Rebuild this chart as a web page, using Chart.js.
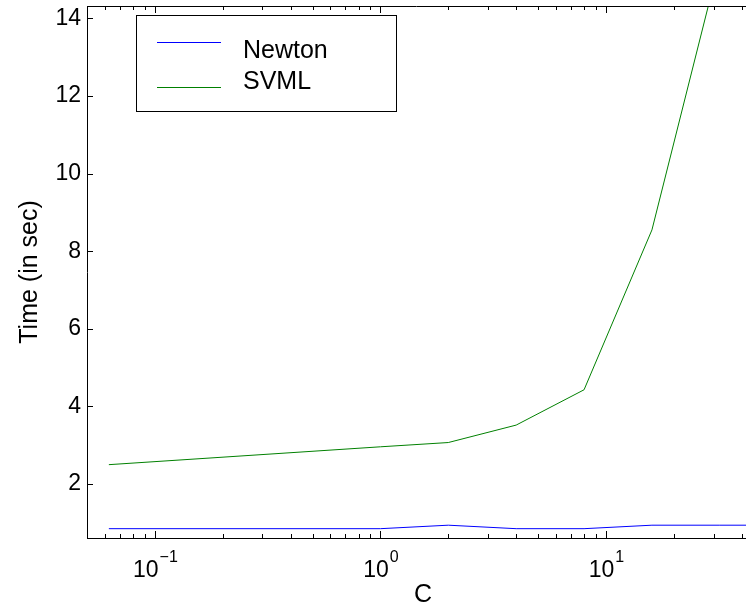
<!DOCTYPE html>
<html>
<head>
<meta charset="utf-8">
<script src="https://cdn.jsdelivr.net/npm/chart.js@4.4.1/dist/chart.umd.min.js"></script>
<style>
  html, body { margin: 0; padding: 0; background: #fff; }
  #wrap { width: 746px; height: 605px; }
</style>
</head>
<body>
<div id="wrap"><canvas id="myChart"></canvas></div>
<script>
// values (C on a log axis, time in sec)
var cNewton = [0.0625, 1, 2, 4, 8, 16, 32, 64];
var timeNewton = [0.85, 0.85, 0.94, 0.85, 0.85, 0.94, 0.94, 0.94];
var cSvml = [0.0625, 1, 2, 4, 8, 16, 32];
var timeSvml = [2.5, 2.96, 3.07, 3.52, 4.43, 8.55, 15.5];

var seriesNames = ['Newton', 'SVML'];
var seriesColors = ['#0000ff', '#008000'];

var yTicks = [2, 4, 6, 8, 10, 12, 14];
var xMajor = [0.1, 1, 10];
var xMajorExp = ['\u22121', '0', '1'];
var xMinor = [0.06, 0.07, 0.08, 0.09, 0.2, 0.3, 0.4, 0.5, 0.6, 0.7, 0.8, 0.9,
              2, 3, 4, 5, 6, 7, 8, 9, 20, 30, 40];
var xTitle = 'C';

var FONT = 'Liberation Sans, Arial, Helvetica, sans-serif';

function toPoints(xs, ys) {
    return xs.map(function (x, i) { return { x: x, y: ys[i] }; });
}

// ticks point inward, box on top, superscript labels, legend inside the axes
var axesExtras = {
    id: 'axesExtras',
    afterDatasetsDraw: function (chart) {
        var ctx = chart.ctx;
        var a = chart.chartArea;
        var xs = chart.scales.x, ys = chart.scales.y;
        ctx.save();
        ctx.strokeStyle = '#000';
        ctx.lineWidth = 1;

        // top border
        ctx.beginPath();
        ctx.moveTo(a.left, Math.round(a.top) + 0.5);
        ctx.lineTo(a.right, Math.round(a.top) + 0.5);
        ctx.stroke();

        ctx.beginPath();
        yTicks.forEach(function (v) {
            var py = Math.round(ys.getPixelForValue(v)) + 0.5;
            ctx.moveTo(a.left, py);
            ctx.lineTo(a.left + 6, py);
        });
        xMajor.forEach(function (v) {
            var px = Math.round(xs.getPixelForValue(v)) + 0.5;
            ctx.moveTo(px, a.bottom); ctx.lineTo(px, a.bottom - 7);
            ctx.moveTo(px, a.top); ctx.lineTo(px, a.top + 7);
        });
        xMinor.forEach(function (v) {
            var px = Math.round(xs.getPixelForValue(v)) + 0.5;
            ctx.moveTo(px, a.bottom); ctx.lineTo(px, a.bottom - 4);
            ctx.moveTo(px, a.top); ctx.lineTo(px, a.top + 4);
        });
        ctx.stroke();

        // 10^n labels
        ctx.fillStyle = '#000';
        ctx.textBaseline = 'alphabetic';
        ctx.textAlign = 'left';
        xMajor.forEach(function (v, i) {
            var px = xs.getPixelForValue(v);
            ctx.font = '23px ' + FONT;
            var wBase = ctx.measureText('10').width;
            ctx.font = '16px ' + FONT;
            var wExp = ctx.measureText(xMajorExp[i]).width;
            var x0 = px - (wBase + wExp) / 2;
            ctx.font = '23px ' + FONT;
            ctx.fillText('10', x0, a.bottom + 39);
            ctx.font = '16px ' + FONT;
            ctx.fillText(xMajorExp[i], x0 + wBase + 1, a.bottom + 24);
        });

        // axis title under the (cropped) x axis
        ctx.font = '25px ' + FONT;
        ctx.textAlign = 'center';
        ctx.fillText(xTitle, 423, 602);
        ctx.textAlign = 'left';

        // legend box
        ctx.fillStyle = '#fff';
        ctx.fillRect(136.5, 15.5, 260, 96);
        ctx.strokeRect(136.5, 15.5, 260, 96);
        var lineY = [42.5, 87.5];
        var textY = [58, 88.5];
        ctx.font = '25px ' + FONT;
        chart.data.datasets.forEach(function (ds, i) {
            ctx.strokeStyle = ds.borderColor;
            ctx.beginPath();
            ctx.moveTo(157, lineY[i]);
            ctx.lineTo(221, lineY[i]);
            ctx.stroke();
            ctx.fillStyle = '#000';
            ctx.fillText(ds.label, 243, textY[i]);
        });
        ctx.restore();
    }
};

var chartArea = document.getElementById('myChart').getContext('2d');

var myChart = new Chart(chartArea, {
    type: 'line',
    data: {
        datasets: [{
            label: seriesNames[0],
            data: toPoints(cNewton, timeNewton),
            borderColor: seriesColors[0],
            borderWidth: 1,
            pointRadius: 0,
            tension: 0
        }, {
            label: seriesNames[1],
            data: toPoints(cSvml, timeSvml),
            borderColor: seriesColors[1],
            borderWidth: 1,
            pointRadius: 0,
            tension: 0
        }]
    },
    options: {
        responsive: true,
        maintainAspectRatio: false,
        animation: false,
        layout: { padding: { top: 6, right: 0, bottom: 0, left: 0 } },
        plugins: {
            legend: { display: false },
            tooltip: { enabled: false }
        },
        scales: {
            x: {
                type: 'logarithmic',
                min: 0.05,
                max: 41.8,
                afterFit: function (s) {
                    s.height = 67;
                    s.paddingLeft = 0;
                    s.paddingRight = 0;
                },
                ticks: { display: false },
                grid: { display: false, drawTicks: false },
                border: { display: true, color: '#000', width: 1 }
            },
            y: {
                type: 'linear',
                min: 0.61,
                max: 14.32,
                afterFit: function (s) {
                    s.width = 87;
                    s.paddingTop = 0;
                    s.paddingBottom = 0;
                },
                afterBuildTicks: function (s) {
                    s.ticks = yTicks.map(function (v) { return { value: v }; });
                },
                ticks: {
                    color: '#000',
                    padding: 6,
                    font: { family: FONT, size: 23 }
                },
                grid: { display: false, drawTicks: false },
                border: { display: true, color: '#000', width: 1 },
                title: {
                    display: true,
                    text: 'Time (in sec)',
                    color: '#000',
                    font: { family: FONT, size: 25 },
                    padding: { top: 15, bottom: 0 }
                }
            }
        }
    },
    plugins: [axesExtras]
});
</script>
</body>
</html>
